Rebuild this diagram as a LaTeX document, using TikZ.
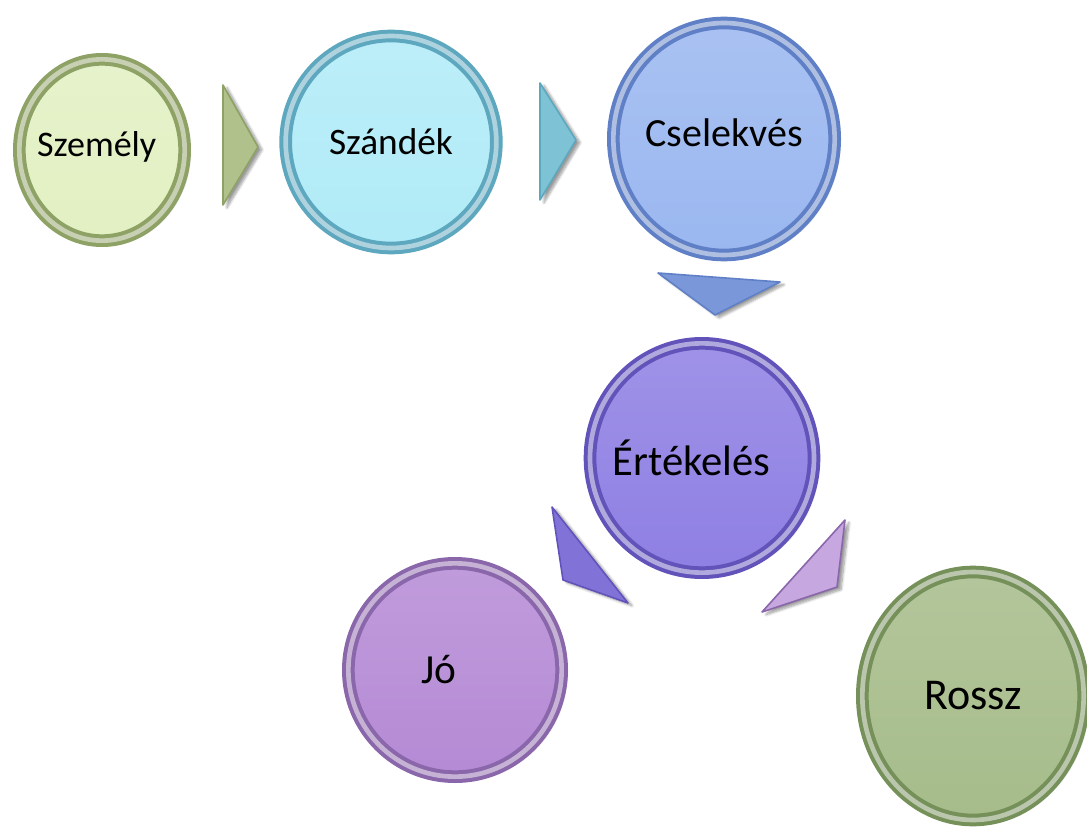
\documentclass[tikz,border=0pt]{standalone}
\usepackage{fontspec}
\setmainfont{Carlito}
\usetikzlibrary{shapes.geometric,shadows.blur}

\definecolor{szemfill}{HTML}{E2F0C2}
\definecolor{szemrim}{HTML}{8FA266}
\definecolor{szanfill}{HTML}{B0EBF7}
\definecolor{szanrim}{HTML}{5DA7BF}
\definecolor{csfill}{HTML}{9AB7F0}
\definecolor{csrim}{HTML}{5F7FC6}
\definecolor{ertfill}{HTML}{8E7FE3}
\definecolor{ertrim}{HTML}{6253BA}
\definecolor{jofill}{HTML}{B58AD5}
\definecolor{jorim}{HTML}{8A66AB}
\definecolor{rosszfill}{HTML}{A6BC8A}
\definecolor{rosszrim}{HTML}{76905A}

\tikzset{
	bubble/.style 2 args={shape=ellipse, inner sep=0pt, top color=#1!85!white, bottom color=#1,
		draw=#2, line width=3pt, double=#2!50!white, double distance=3.5pt,
		blur shadow={shadow xshift=3pt, shadow yshift=-2pt, shadow opacity=45, shadow blur steps=8}},
	tri/.style={line width=1.2pt, line join=round,
		blur shadow={shadow xshift=3pt, shadow yshift=-2pt, shadow opacity=40, shadow blur steps=8}}
}

\begin{document}
\begin{tikzpicture}[x=0.75pt, y=-0.75pt]

	\useasboundingbox (0,0) rectangle (1087,827);

	\draw (102,150) node[bubble={szemfill}{szemrim}, minimum width=124pt, minimum height=136pt, label={[font=\fontsize{27}{31}\selectfont, xshift=-4pt, yshift=2pt]center:Személy}](szemely){};
	\draw (391,142) node[bubble={szanfill}{szanrim}, minimum width=158pt, minimum height=159pt, font=\fontsize{28}{32}\selectfont](szandek){Szándék};
	\draw (724,139) node[bubble={csfill}{csrim}, minimum width=166pt, minimum height=174pt, label={[font=\fontsize{30}{34}\selectfont, yshift=5pt]center:Cselekvés}](cselekves){};
	\draw (702,458) node[bubble={ertfill}{ertrim}, minimum width=168pt, minimum height=172pt, label={[font=\fontsize{32}{36}\selectfont, xshift=-8pt]center:Értékelés}](ertekeles){};
	\draw (455,670) node[bubble={jofill}{jorim}, minimum width=160pt, minimum height=160pt, label={[font=\fontsize{31}{35}\selectfont, xshift=-12pt]center:Jó}](jo){};
	\draw (973,696) node[bubble={rosszfill}{rosszrim}, minimum width=166pt, minimum height=186pt, font=\fontsize{33}{37}\selectfont](rossz){Rossz};

	% arrows between the bubbles
	\filldraw[tri, fill=szemfill!40!szemrim, draw=szemrim] (223,85) -- (258,147) -- (223,205) -- cycle;
	\filldraw[tri, fill=szanfill!40!szanrim, draw=szanrim] (540,83) -- (576,140) -- (540,200) -- cycle;
	\filldraw[tri, fill=csfill!45!csrim, draw=csrim] (658,273) -- (780,282) -- (715,315) -- cycle;
	\filldraw[tri, fill=ertfill!70!ertrim, draw=ertrim] (552,507) -- (628,603) -- (563,580) -- cycle;
	\filldraw[tri, fill=jofill!75!white, draw=jorim] (845,520) -- (837,587) -- (762,612) -- cycle;

\end{tikzpicture}
\end{document}
